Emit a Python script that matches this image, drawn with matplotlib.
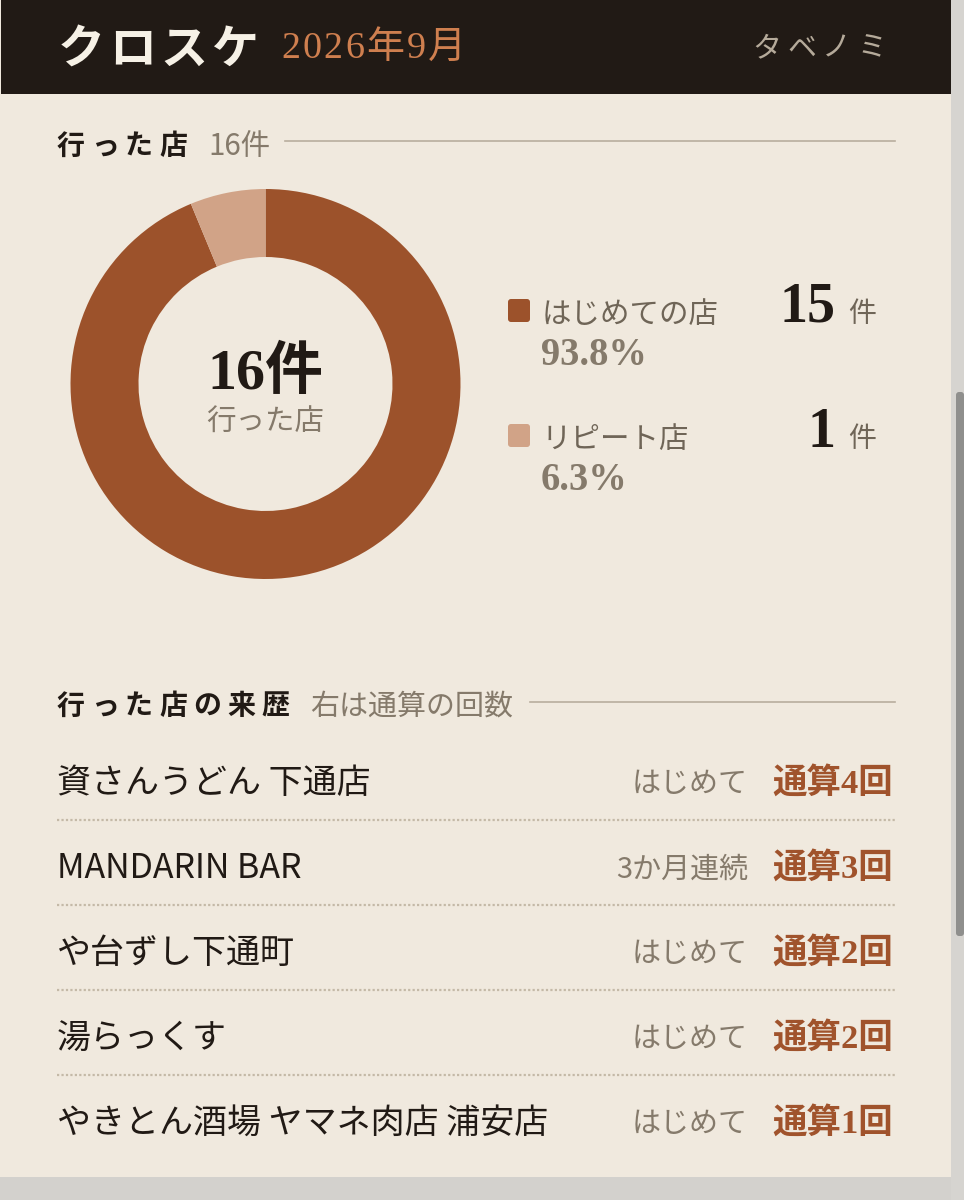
import matplotlib
matplotlib.use('Agg')
import matplotlib.pyplot as plt
from matplotlib.patches import Rectangle, FancyBboxPatch

JP = ['Noto Sans CJK JP', 'DejaVu Sans']
SERIF = ['Liberation Serif', 'Noto Sans CJK JP']

# data
pie_labels = ['はじめての店', 'リピート店']
pie_counts = [15, 1]
pie_pcts = ['93.8%', '6.3%']
pie_colors = ['#9c522b', '#d1a387']
total_label = '16件'

shop_names = ['資さんうどん 下通店', 'MANDARIN BAR', 'や台ずし下通町', '湯らっくす', 'やきとん酒場 ヤマネ肉店 浦安店']
shop_status = ['はじめて', '3か月連続', 'はじめて', 'はじめて', 'はじめて']
shop_visits = [4, 3, 2, 2, 1]

DARK = '#211a15'
BG = '#f0e9de'
MUTED = '#857a6b'
RUST = '#a0532c'

W, H = 964, 1200
fig = plt.figure(figsize=(W / 100, H / 100), dpi=100, facecolor='#d3d1cd')

# whole figure is one axes in pixel coordinates
ax = fig.add_axes([0, 0, 1, 1])
ax.set_xlim(0, W)
ax.set_ylim(H, 0)
ax.axis('off')


def px(size):
    # css pixels to points
    return size * 72 / 100


def txt(x, y, s, size, color=DARK, family=JP, weight='normal', ha='left'):
    # va center sits high for these fonts, so push it down a bit
    return ax.text(x, y + size * 0.12, s, fontsize=px(size), color=color, family=family,
                   fontweight=weight, ha=ha, va='center')


def spaced(x, y, s, size, step, color=DARK, weight='normal'):
    # letter spacing, one character at a time
    for i, ch in enumerate(s):
        txt(x + i * step, y, ch, size, color=color, weight=weight)


def tracked(x, y, s, size, extra, color=DARK, family=JP, weight='normal'):
    # like spaced, but each character keeps its own width
    renderer = fig.canvas.get_renderer()
    for ch in s:
        t = txt(x, y, ch, size, color=color, family=family, weight=weight)
        x += t.get_window_extent(renderer).width + extra


# page, shadow and scrollbar
ax.add_patch(Rectangle((0, 0), 951, 1177, fc=BG, ec='none', zorder=0))
ax.add_patch(Rectangle((951, 0), 13, 1200, fc='#d6d4d0', ec='none', zorder=0))
ax.add_patch(FancyBboxPatch((956, 392), 8, 544, boxstyle='round,pad=0,rounding_size=3',
                            fc='#8f8f8d', ec='none', zorder=1))

# header
ax.add_patch(Rectangle((1, 0), 950, 94, fc=DARK, ec='none', zorder=1))
spaced(58, 44, 'クロスケ', 47, 51, color='#f6f1e6', weight='bold')
tracked(281, 44, '2026年9月', 38, 2.3, color='#cf7f4f', family=SERIF)
spaced(752, 45, 'タベノミ', 29, 35, color='#b5aa9a')

# first section title
spaced(57, 143, '行った店', 28, 34, weight='bold')
txt(208, 143, '16件', 29.5, color=MUTED)
ax.plot([285, 895], [141, 141], color='#b8ae9e', lw=1.2)

# donut
cx, cy, r = 265.5, 384, 195
pie_ax = fig.add_axes([(cx - r) / W, 1 - (cy + r) / H, 2 * r / W, 2 * r / H])
pie_ax.pie(pie_counts, colors=pie_colors, startangle=90, counterclock=False,
           radius=1.0, wedgeprops={'width': 68 / 195, 'linewidth': 0})
pie_ax.set_xlim(-1, 1)
pie_ax.set_ylim(-1, 1)
txt(cx, 367, total_label, 58, family=SERIF, weight='bold', ha='center')
txt(cx, 419, '行った店', 29.5, color=MUTED, ha='center')

# legend
legend_y = [311, 436]
for i in range(2):
    y = legend_y[i]
    ax.add_patch(FancyBboxPatch((508, y - 12), 22, 23, boxstyle='round,pad=0,rounding_size=3',
                                fc=pie_colors[i], ec='none'))
    txt(542, y, pie_labels[i], 29.5, color='#6f6557')
    txt(541, y + 40, pie_pcts[i], 38.5, color=MUTED, family=SERIF, weight='bold')
    txt(835, y - 10, str(pie_counts[i]), 56, family=SERIF, weight='bold', ha='right')
    txt(848, y, '件', 28, color='#6f6557')

# second section title
spaced(57, 703, '行った店の来歴', 28, 34, weight='bold')
txt(310, 703, '右は通算の回数', 29, color=MUTED)
ax.plot([530, 895], [702, 702], color='#b8ae9e', lw=1.2)

# shop rows
row_y = [779, 864, 949, 1034, 1119]
for i in range(len(shop_names)):
    y = row_y[i]
    txt(57, y, shop_names[i], 34)
    txt(748, y + 2, shop_status[i], 29, color=MUTED, ha='right')
    visit = '通算' + str(shop_visits[i]) + '回'
    txt(893, y, visit, 34.5, color=RUST, family=SERIF, weight='bold', ha='right')
    if i < len(shop_names) - 1:
        ax.plot([57, 895], [y + 41, y + 41], color='#c4b9a7', lw=1.6,
                linestyle=(0, (1, 1)))

fig.savefig('out.png', dpi=100, facecolor=fig.get_facecolor())
